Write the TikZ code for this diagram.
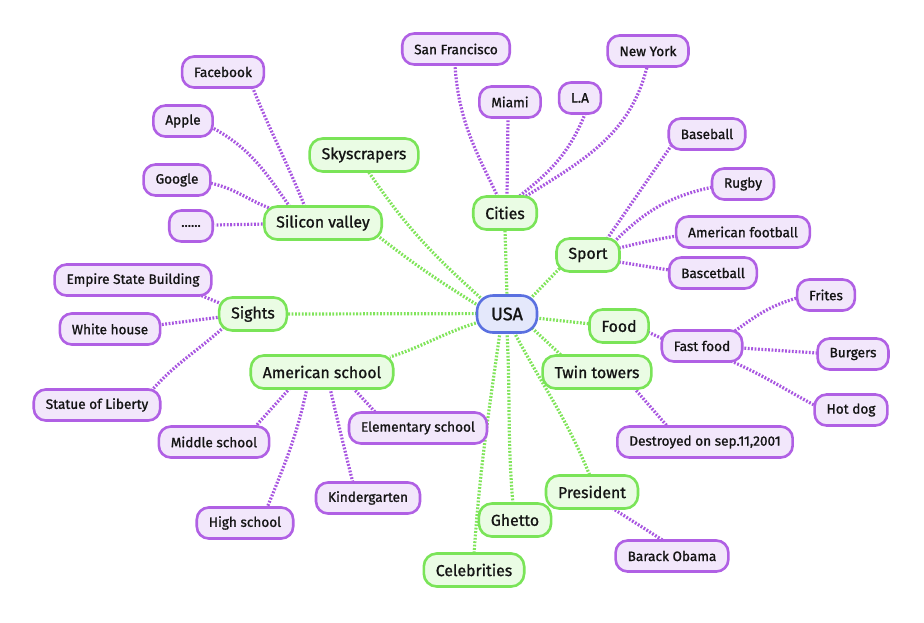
\documentclass[tikz,border=0pt]{standalone}
\usepackage{fontspec}
\setmainfont{Fira Sans}[UprightFeatures={FakeBold=1.1}]
\usetikzlibrary{backgrounds}
\definecolor{gborder}{RGB}{122,228,88}
\definecolor{gfill}{RGB}{234,252,228}
\definecolor{pborder}{RGB}{176,96,228}
\definecolor{pfill}{RGB}{242,231,251}
\definecolor{bborder}{RGB}{90,112,224}
\definecolor{bfill}{RGB}{228,232,251}
\definecolor{gline}{RGB}{128,228,90}
\definecolor{pline}{RGB}{168,86,224}
\tikzset{
  base/.style={draw, line width=2.6pt, rounded corners=13pt, inner xsep=12pt, inner ysep=0pt, text=black!92},
  gnode/.style={base, draw=gborder, fill=gfill, minimum height=33pt, font=\fontsize{15.8}{17}\selectfont},
  pnode/.style={base, draw=pborder, fill=pfill, minimum height=31pt, font=\fontsize{13.6}{15}\selectfont, rounded corners=12pt},
  root/.style={base, draw=bborder, fill=bfill, minimum height=37pt, minimum width=60pt, font=\fontsize{18}{20}\selectfont, rounded corners=16pt},
  gl/.style={draw=gline, line width=3.2pt, dash pattern=on 1.8pt off 1.6pt},
  pl/.style={draw=pline, line width=3.2pt, dash pattern=on 1.8pt off 1.6pt},
}
\begin{document}
\begin{tikzpicture}[x=1pt,y=1pt]
\useasboundingbox (0,0) rectangle (924,-622);
\path
  (507,-314) node[root] (usa) {USA}
  (364,-155) node[gnode] (sky) {Skyscrapers}
  (323,-223) node[gnode] (sil) {Silicon valley}
  (505,-213) node[gnode] (cit) {Cities}
  (588,-255) node[gnode] (spo) {Sport}
  (253,-314) node[gnode] (sig) {Sights}
  (619,-326) node[gnode] (foo) {Food}
  (597,-372) node[gnode] (twi) {Twin towers}
  (322,-372) node[gnode] (ams) {American school}
  (592,-492) node[gnode] (pre) {President}
  (515,-520) node[gnode] (ghe) {Ghetto}
  (474,-570) node[gnode] (cel) {Celebrities}
  (223,-72) node[pnode] (fac) {Facebook}
  (183,-121) node[pnode] (app) {Apple}
  (177,-180) node[pnode] (goo) {Google}
  (191,-226) node[pnode] (dot) {......}
  (456,-49) node[pnode] (san) {San Francisco}
  (510,-102) node[pnode] (mia) {Miami}
  (580,-98) node[pnode] (la) {L.A}
  (648,-51) node[pnode] (nyc) {New York}
  (707,-134) node[pnode] (bsb) {Baseball}
  (743,-184) node[pnode] (rug) {Rugby}
  (743,-232) node[pnode] (amf) {American football}
  (713,-273) node[pnode] (bas) {Bascetball}
  (133,-280) node[pnode] (esb) {Empire State Building}
  (110,-329) node[pnode] (whi) {White house}
  (97,-405) node[pnode] (sol) {Statue of Liberty}
  (214,-442) node[pnode] (mid) {Middle school}
  (418,-428) node[pnode] (ele) {Elementary school}
  (368,-498) node[pnode] (kin) {Kindergarten}
  (245,-523) node[pnode] (hig) {High school}
  (702,-346) node[pnode] (ff) {Fast food}
  (826,-295) node[pnode] (fri) {Frites}
  (853,-354) node[pnode] (bur) {Burgers}
  (851,-410) node[pnode] (hot) {Hot dog}
  (705,-442) node[pnode] (des) {Destroyed on sep.11,2001}
  (672,-556) node[pnode] (oba) {Barack Obama};
\begin{scope}[on background layer]
  % green connectors
  \draw[gl] ([shift={(-24,14)}]usa.center) to[out=138,in=-56] ([shift={(4,-16)}]sky.center);
  \draw[gl] ([shift={(-28,8)}]usa.center) to[out=148,in=-38] ([shift={(55,-13)}]sil.center);
  \draw[gl] ([shift={(0,17)}]usa.center) -- ([shift={(0,-17)}]cit.center);
  \draw[gl] ([shift={(23,15)}]usa.center) -- ([shift={(-28,-13)}]spo.center);
  \draw[gl] ([shift={(-30,0.4)}]usa.center) -- ([shift={(35,0)}]sig.center);
  \draw[gl] ([shift={(29,-4)}]usa.center) -- ([shift={(-28,2)}]foo.center);
  \draw[gl] ([shift={(25,-14)}]usa.center) -- ([shift={(-35,16)}]twi.center);
  \draw[gl] ([shift={(-28,-8)}]usa.center) to[out=197,in=18] ([shift={(68,15)}]ams.center);
  \draw[gl] ([shift={(7,-18)}]usa.center) to[out=-62,in=112] ([shift={(-2,16)}]pre.center);
  \draw[gl] ([shift={(0,-18)}]usa.center) to[out=-87,in=95] ([shift={(-2,16)}]ghe.center);
  \draw[gl] ([shift={(-7,-18)}]usa.center) to[out=-98,in=86] ([shift={(0,16)}]cel.center);
  % purple connectors
  \draw[pl] ([shift={(-18,16)}]sil.center) to[out=112,in=-68] ([shift={(29,-14)}]fac.center);
  \draw[pl] ([shift={(-33,16)}]sil.center) to[out=125,in=-28] ([shift={(28,-6)}]app.center);
  \draw[pl] ([shift={(-51,14)}]sil.center) to[out=160,in=-12] ([shift={(33,-3)}]goo.center);
  \draw[pl] ([shift={(-57,-1)}]sil.center) -- ([shift={(24,1)}]dot.center);
  \draw[pl] ([shift={(-7,16)}]cit.center) to[out=116,in=-86] ([shift={(-1,-17)}]san.center);
  \draw[pl] ([shift={(2,16)}]cit.center) -- ([shift={(-2,-15)}]mia.center);
  \draw[pl] ([shift={(12,15)}]cit.center) to[out=38,in=-112] ([shift={(5,-16)}]la.center);
  \draw[pl] ([shift={(18,15)}]cit.center) to[out=32,in=-104] ([shift={(-1,-16)}]nyc.center);
  \draw[pl] ([shift={(19,16)}]spo.center) -- ([shift={(-36,-12)}]bsb.center);
  \draw[pl] ([shift={(26,13)}]spo.center) to[out=45,in=-168] ([shift={(-30,-3)}]rug.center);
  \draw[pl] ([shift={(31,7)}]spo.center) to[out=14,in=190] ([shift={(-67,-4)}]amf.center);
  \draw[pl] ([shift={(31,-7)}]spo.center) -- ([shift={(-44,3)}]bas.center);
  \draw[pl] ([shift={(-31,10)}]sig.center) -- ([shift={(67,-15)}]esb.center);
  \draw[pl] ([shift={(-32,-3)}]sig.center) -- ([shift={(48,4)}]whi.center);
  \draw[pl] ([shift={(-29,-13)}]sig.center) to[out=-138,in=48] ([shift={(55,15)}]sol.center);
  \draw[pl] ([shift={(-32,-16)}]ams.center) -- ([shift={(41,15)}]mid.center);
  \draw[pl] ([shift={(31,-16)}]ams.center) -- ([shift={(-41,14)}]ele.center);
  \draw[pl] ([shift={(8,-16)}]ams.center) to[out=-77,in=104] ([shift={(-15,15)}]kin.center);
  \draw[pl] ([shift={(-15,-16)}]ams.center) to[out=-102,in=68] ([shift={(22,15)}]hig.center);
  \draw[pl] ([shift={(29,-6)}]foo.center) -- ([shift={(-39,7)}]ff.center);
  \draw[pl] ([shift={(33,15)}]ff.center) to[out=36,in=-164] ([shift={(-29,-3)}]fri.center);
  \draw[pl] ([shift={(39,-2)}]ff.center) -- ([shift={(-36,1)}]bur.center);
  \draw[pl] ([shift={(29,-15)}]ff.center) to[out=-24,in=152] ([shift={(-35,4)}]hot.center);
  \draw[pl] ([shift={(37,-16)}]twi.center) -- ([shift={(-37,15)}]des.center);
  \draw[pl] ([shift={(20,-16)}]pre.center) -- ([shift={(-8,15)}]oba.center);
\end{scope}
\end{tikzpicture}
\end{document}
